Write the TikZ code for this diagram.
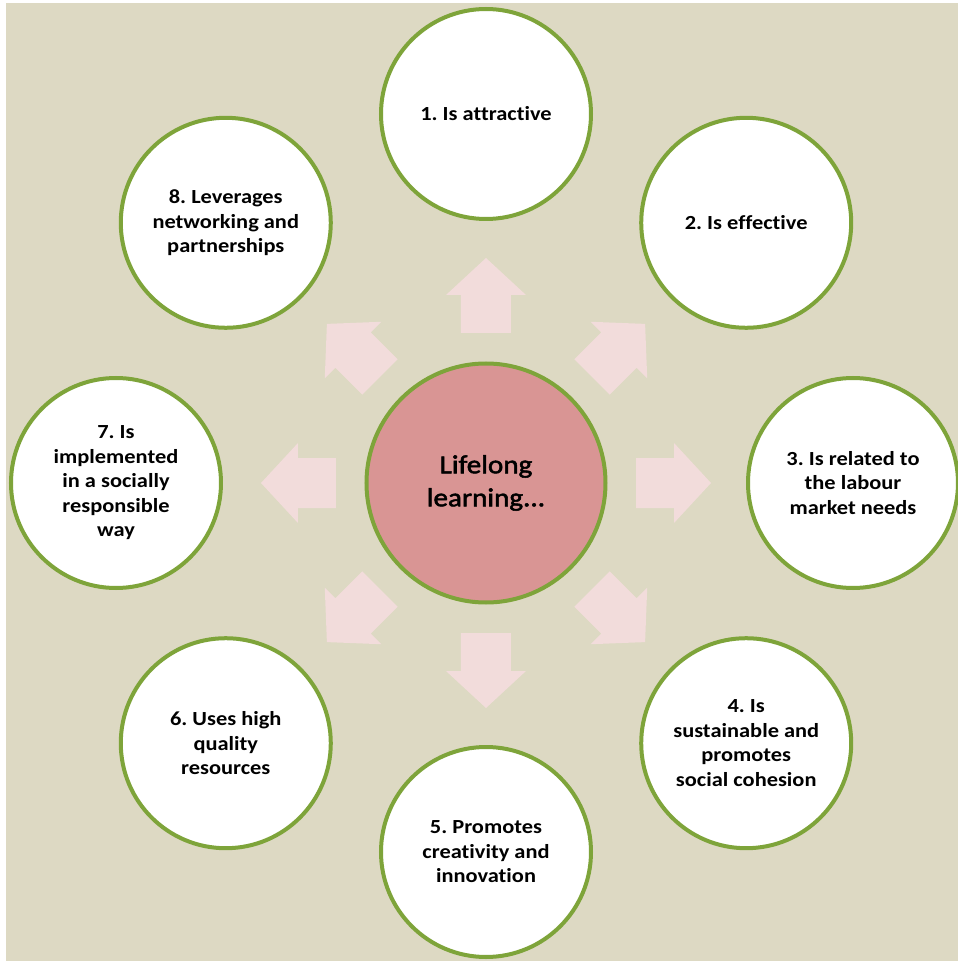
\documentclass[tikz,border=0pt]{standalone}
\usepackage{fontspec}
\setmainfont{Carlito}[FakeStretch=1.12,Ligatures=NoCommon]
\newfontfamily\hubfont{Carlito}[FakeStretch=1.12,FakeBold=2,Ligatures=NoCommon]
\usepackage{tikz}
\usetikzlibrary{positioning}
\definecolor{bgtan}{HTML}{DDD9C3}
\definecolor{ringgreen}{HTML}{7EA43A}
\definecolor{hubred}{HTML}{D99594}
\definecolor{arrowpink}{HTML}{F2DCDB}
\frenchspacing

\begin{document}
\begin{tikzpicture}[x=1pt,y=1pt]
                    \tikzstyle{every node}+=[inner sep=0pt]
                    \tikzstyle{goal}=[circle, draw=ringgreen, line width=4pt, fill=white, minimum size=210pt, align=center, font=\bfseries\fontsize{20}{24.5}\selectfont]
                    \tikzstyle{hub}=[circle, draw=ringgreen, line width=4pt, fill=hubred, minimum size=239pt, align=center, font=\hubfont\fontsize{26}{33}\selectfont]
                    \useasboundingbox (-486,-478) rectangle (472,483);
                    \fill [bgtan] (-480,-478) rectangle (472,480);
                    % block arrows round the centre
                    \foreach \a in {0,45,...,315}
                        \fill [arrowpink, rotate=\a] (150,-25) -- (188,-25) -- (188,-40) -- (225,0) -- (188,40) -- (188,25) -- (150,25) -- cycle;
                    \node [hub] (life) at (0,0) {Lifelong\\learning...};
                    \node [goal] (g1) at (90:369) {1. Is attractive};
                    \node [goal] (g2) at (45:368) {2. Is effective};
                    \node [goal] (g3) at (0:367) {3. Is related to\\the labour\\market needs};
                    \node [goal] (g4) at (-45:368) {4. Is\\sustainable and\\promotes\\social cohesion};
                    \node [goal] (g5) at (-90:369) {5. Promotes\\creativity and\\innovation};
                    \node [goal] (g6) at (-135:368) {6. Uses high\\quality\\resources};
                    \node [goal] (g7) at (180:370) {7. Is\\implemented\\in a socially\\responsible\\way};
                    \node [goal] (g8) at (135:368) {8. Leverages\\networking and\\partnerships};
\end{tikzpicture}
\end{document}
